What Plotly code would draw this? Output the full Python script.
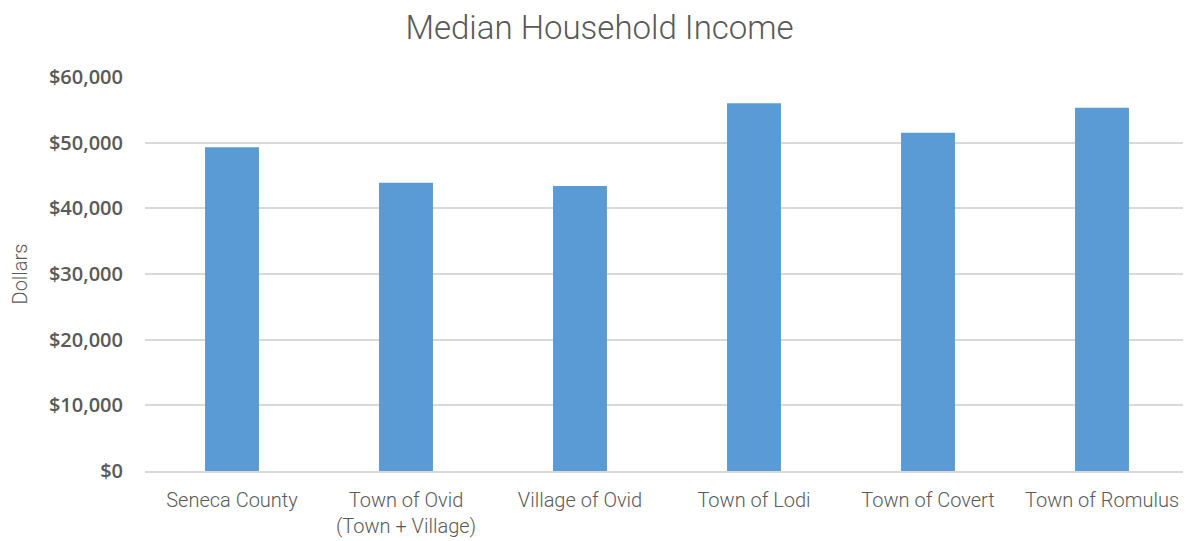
import plotly.graph_objects as go

categories = ["Seneca County", "Town of Ovid<br>(Town + Village)", "Village of Ovid",
              "Town of Lodi", "Town of Covert", "Town of Romulus"]
income = [49300, 43900, 43400, 56000, 51500, 55300]
tick_vals = [0, 10000, 20000, 30000, 40000, 50000, 60000]
tick_text = ["$0", "$10,000", "$20,000", "$30,000", "$40,000", "$50,000", "$60,000"]

fig = go.Figure(go.Bar(x=categories, y=income, marker=dict(color="#5b9bd5", line=dict(width=0))))

fig.update_layout(
    width=1183, height=533,
    paper_bgcolor="white", plot_bgcolor="white",
    margin=dict(l=137, r=2, t=69, b=70),
    bargap=0.69,
    showlegend=False,
    title=dict(text="Median Household Income", x=0.5, xanchor="center", y=0.963, yanchor="middle",
               font=dict(family="Roboto", size=33, color="#595959", weight=300)),
)
fig.update_yaxes(range=[0, 60000], tickvals=tick_vals, ticktext=tick_text, automargin=False,
                 showgrid=True, gridcolor="#d9d9d9", gridwidth=1.5, zeroline=False,
                 showline=False, ticks="", ticklen=0, ticklabelstandoff=21,
                 tickfont=dict(family="Open Sans", size=20, color="#595959", weight=600),
                 title=dict(text="Dollars", standoff=16,
                            font=dict(family="Roboto", size=20, color="#595959", weight=300)))
fig.update_xaxes(showline=True, linecolor="#d9d9d9", linewidth=1.5, ticks="", automargin=False,
                 ticklabelstandoff=10,
                 tickfont=dict(family="Roboto", size=20, color="#595959", weight=300))

fig.write_html("out.html")
